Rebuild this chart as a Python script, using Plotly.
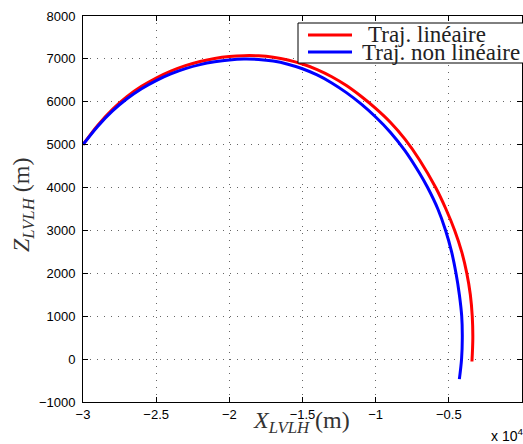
import plotly.graph_objects as go

# X values in units of 1e4 m (axis shows "x 10^4"), Z in m
red_x = [-3.0, -2.9, -2.8, -2.7, -2.6, -2.5, -2.4, -2.3, -2.2, -2.1,
         -2.0, -1.9, -1.8, -1.7, -1.6, -1.5, -1.4, -1.3, -1.2, -1.1,
         -1.0, -0.9, -0.8, -0.7, -0.590, -0.520, -0.460, -0.412, -0.377, -0.353,
         -0.340, -0.336, -0.342]
red_y = [5000, 5450, 5820, 6120, 6360, 6555, 6715, 6843, 6941, 7011,
         7055, 7075, 7071, 7039, 6976, 6880, 6750, 6584, 6378, 6128,
         5845, 5522, 5128, 4644, 4000, 3500, 3000, 2500, 2000, 1500,
         1000, 500, -56]

blue_x = [-3.0, -2.9, -2.8, -2.7, -2.6, -2.5, -2.4, -2.3, -2.2, -2.1,
          -2.0, -1.9, -1.8, -1.7, -1.6, -1.5, -1.4, -1.3, -1.2, -1.1,
          -1.0, -0.9, -0.8, -0.7, -0.645, -0.575, -0.522, -0.481, -0.451, -0.428,
          -0.412, -0.408, -0.413, -0.428]
blue_y = [5000, 5425, 5780, 6070, 6305, 6495, 6650, 6773, 6866, 6931,
          6975, 6995, 6986, 6949, 6876, 6770, 6625, 6439, 6213, 5950,
          5645, 5291, 4861, 4333, 4000, 3500, 3000, 2500, 2000, 1500,
          1000, 500, 0, -467]

legend_labels = ["Traj. linéaire", "Traj. non linéaire"]
series_colors = ["#ff0000", "#0000ff"]

x_tickvals = [-3, -2.5, -2, -1.5, -1, -0.5, 0]
x_ticktext = ["\u22123", "\u22122.5", "\u22122", "\u22121.5", "\u22121", "\u22120.5", "0"]
y_tickvals = [-1000, 0, 1000, 2000, 3000, 4000, 5000, 6000, 7000, 8000]
y_ticktext = ["\u22121000", "0", "1000", "2000", "3000", "4000", "5000", "6000", "7000", "8000"]

W, H = 523, 444
L, R, T, B = 83, 1, 16, 42
pw, ph = W - L - R, H - T - B

def px(x):
    return (x - L) / pw

def py(y):
    return (H - B - y) / ph

fig = go.Figure()
fig.add_trace(go.Scatter(x=red_x, y=red_y, mode="lines", name=legend_labels[0],
                         line=dict(color=series_colors[0], width=3, shape="spline", smoothing=1.0),
                         showlegend=False))
fig.add_trace(go.Scatter(x=blue_x, y=blue_y, mode="lines", name=legend_labels[1],
                         line=dict(color=series_colors[1], width=3, shape="spline", smoothing=1.0),
                         showlegend=False))

axis_common = dict(
    showline=True, linecolor="black", linewidth=1, mirror="ticks",
    ticks="inside", ticklen=5, tickwidth=1, tickcolor="black",
    showgrid=True, gridcolor="#666666", gridwidth=1, griddash="1px,6px",
    zeroline=False,
    tickfont=dict(family="Liberation Sans, Arial", size=13, color="black"),
)

fig.update_xaxes(range=[-3, 0], tickvals=x_tickvals, ticktext=x_ticktext, **axis_common)
fig.update_yaxes(range=[-1000, 8000], tickvals=y_tickvals, ticktext=y_ticktext,
                 ticklabelstandoff=4, **axis_common)

shapes = [
    dict(type="rect", xref="paper", yref="paper", x0=px(298), x1=px(560), y0=py(63), y1=py(23),
         line=dict(color="black", width=1), fillcolor="white", layer="above"),
    dict(type="line", xref="paper", yref="paper", x0=px(308), x1=px(352), y0=py(35), y1=py(35),
         line=dict(color=series_colors[0], width=3), layer="above"),
    dict(type="line", xref="paper", yref="paper", x0=px(308), x1=px(352), y0=py(52), y1=py(52),
         line=dict(color=series_colors[1], width=3), layer="above"),
]

serif = "Liberation Serif, Times New Roman, serif"
annotations = [
    dict(xref="paper", yref="paper", x=px(366), y=py(35), xanchor="left", yanchor="middle",
         text=legend_labels[0], showarrow=False, font=dict(family=serif, size=23, color="#222")),
    dict(xref="paper", yref="paper", x=px(360), y=py(52), xanchor="left", yanchor="middle",
         text=legend_labels[1], showarrow=False, font=dict(family=serif, size=23, color="#222")),
    dict(xref="paper", yref="paper", x=px(301), y=py(422), xanchor="center", yanchor="middle",
         text="<i>X</i><sub><i>LVLH</i></sub>&nbsp;(m)", showarrow=False,
         font=dict(family=serif, size=24, color="#333")),
    dict(xref="paper", yref="paper", x=px(23), y=py(205), xanchor="center", yanchor="middle",
         text="<i>Z</i><sub><i>LVLH</i></sub>&nbsp;(m)", showarrow=False, textangle=-90,
         font=dict(family=serif, size=24, color="#333")),
    dict(xref="paper", yref="paper", x=px(489), y=py(435), xanchor="left", yanchor="middle",
         text="x 10<sup>4</sup>", showarrow=False,
         font=dict(family="Liberation Sans, Arial", size=14, color="black")),
]

fig.update_layout(
    width=W, height=H,
    margin=dict(l=L, r=R, t=T, b=B, pad=0),
    paper_bgcolor="white", plot_bgcolor="white",
    shapes=shapes, annotations=annotations,
    showlegend=False,
)

fig.write_html("out.html", config={"displayModeBar": False},
               post_script="document.body.style.margin='0';")
